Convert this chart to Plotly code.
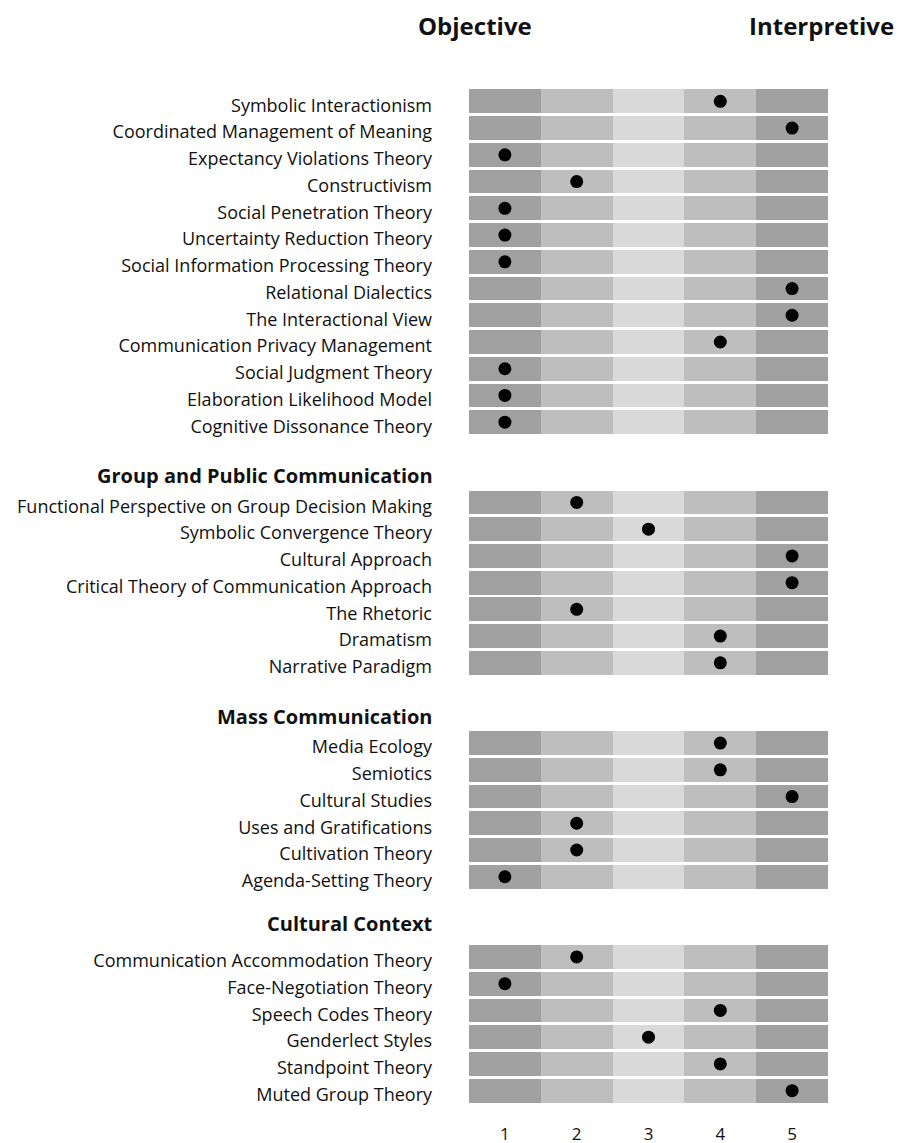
import plotly.graph_objects as go

# ---- data ----
group_names = ["Interpersonal Communication", "Group and Public Communication",
               "Mass Communication", "Cultural Context"]

interpersonal_theories = [
    "Symbolic Interactionism", "Coordinated Management of Meaning",
    "Expectancy Violations Theory", "Constructivism", "Social Penetration Theory",
    "Uncertainty Reduction Theory", "Social Information Processing Theory",
    "Relational Dialectics", "The Interactional View",
    "Communication Privacy Management", "Social Judgment Theory",
    "Elaboration Likelihood Model", "Cognitive Dissonance Theory"]
interpersonal_scores = [4, 5, 1, 2, 1, 1, 1, 5, 5, 4, 1, 1, 1]

group_public_theories = [
    "Functional Perspective on Group Decision Making", "Symbolic Convergence Theory",
    "Cultural Approach", "Critical Theory of Communication Approach",
    "The Rhetoric", "Dramatism", "Narrative Paradigm"]
group_public_scores = [2, 3, 5, 5, 2, 4, 4]

mass_theories = ["Media Ecology", "Semiotics", "Cultural Studies",
                 "Uses and Gratifications", "Cultivation Theory", "Agenda-Setting Theory"]
mass_scores = [4, 4, 5, 2, 2, 1]

cultural_theories = ["Communication Accommodation Theory", "Face-Negotiation Theory",
                     "Speech Codes Theory", "Genderlect Styles", "Standpoint Theory",
                     "Muted Group Theory"]
cultural_scores = [2, 1, 4, 3, 4, 5]

scale_ticks = [1, 2, 3, 4, 5]
scale_ends = ["Objective", "Interpretive"]

# ---- layout helpers ----
FONT = "Open Sans"
band_colors = ["#a0a0a0", "#bebebe", "#d9d9d9", "#bebebe", "#a0a0a0"]

groups = [interpersonal_theories, group_public_theories, mass_theories, cultural_theories]
scores = [interpersonal_scores, group_public_scores, mass_scores, cultural_scores]

positions, names, vals, first_pos = [], [], [], []
slot = 0
for theories, sc in zip(groups, scores):
    first_pos.append(slot)
    for t, v in zip(theories, sc):
        positions.append(slot)
        names.append(t)
        vals.append(v)
        slot += 1
    slot += 2
last = positions[-1]

fig = go.Figure()
for k, col in zip(scale_ticks, band_colors):
    fig.add_trace(go.Bar(
        orientation="h", y=positions, x=[1] * len(positions),
        base=[k - 0.5] * len(positions), width=0.89,
        marker=dict(color=col, line=dict(width=0)),
        hoverinfo="skip", showlegend=False))

fig.add_trace(go.Scatter(
    x=vals, y=positions, mode="markers",
    marker=dict(color="black", size=13), showlegend=False))

annotations = []
header_shift = [0, 0, 0, 7]
for g, fp, ys in zip(group_names, first_pos, header_shift):
    annotations.append(dict(
        text=f"<b>{g}</b>", x=0, xref="paper", xanchor="right", xshift=-34,
        y=fp - 1, yref="y", yanchor="middle", yshift=ys, showarrow=False,
        font=dict(family=FONT, size=20, color="#111")))
for txt, xp in zip(scale_ends, [0.017, 0.983]):
    annotations.append(dict(
        text=f"<b>{txt}</b>", x=xp, xref="paper", xanchor="center",
        y=1, yref="paper", yanchor="top", yshift=80, borderpad=0,
        showarrow=False, font=dict(family=FONT, size=24, color="#111")))

fig.update_layout(
    width=909, height=1143,
    margin=dict(l=461, r=89, t=80, b=47, autoexpand=False),
    paper_bgcolor="white", plot_bgcolor="white",
    barmode="overlay", bargap=0,
    font=dict(family=FONT, size=17, color="#111"),
    annotations=annotations,
    xaxis=dict(range=[0.5, 5.5], tickvals=scale_ticks, showgrid=False,
               zeroline=False, showline=False, ticks="", automargin=False,
               ticklabelstandoff=18, tickfont=dict(size=17)),
    yaxis=dict(range=[last + 0.5, -0.5], tickvals=positions, ticktext=names,
               showgrid=False, zeroline=False, showline=False, ticks="",
               automargin=False, ticklabelstandoff=36, ticklabelshift=-4,
               tickfont=dict(size=18)),
)

fig.write_html("out.html")
